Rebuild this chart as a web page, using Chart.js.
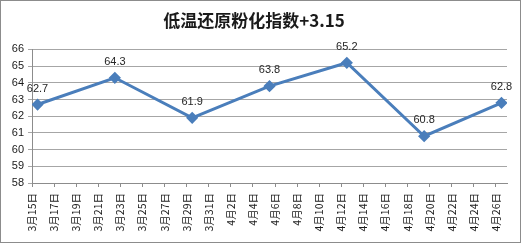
<!DOCTYPE html>
<html>
<head>
<meta charset="utf-8">
<script src="https://cdn.jsdelivr.net/npm/chart.js@4/dist/chart.umd.min.js"></script>
<style>
  body { margin: 0; background: #fff; }
  #wrap { width: 521px; height: 243px; box-sizing: border-box; border: 1px solid #8c8c8c; }
  canvas { display: block; }
</style>
</head>
<body>
<div id="wrap"><canvas id="chart" width="519" height="241"></canvas></div>
<script>
// weekly readings
const sampleDates = ['3月15日', '3月22日', '3月29日', '4月5日', '4月12日', '4月19日', '4月26日'];
const sampleValues = [62.7, 64.3, 61.9, 63.8, 65.2, 60.8, 62.8];

// date axis labels, every 2 days
const tickLabels = ['3月15日', '3月17日', '3月19日', '3月21日', '3月23日', '3月25日', '3月27日', '3月29日',
  '3月31日', '4月2日', '4月4日', '4月6日', '4月8日', '4月10日', '4月12日', '4月14日', '4月16日',
  '4月18日', '4月20日', '4月22日', '4月24日', '4月26日'];
const yTicks = [58, 59, 60, 61, 62, 63, 64, 65, 66];

// day number counted from 3月15日
const dayIndex = (label) => {
  const m = label.match(/(\d+)月(\d+)日/);
  const month = parseInt(m[1]), day = parseInt(m[2]);
  return month === 3 ? day - 15 : day + 16;
};

const valueLabels = {
  id: 'valueLabels',
  afterDatasetsDraw(chart) {
    const ctx = chart.ctx;
    const meta = chart.getDatasetMeta(0);
    ctx.save();
    ctx.font = '11px "Liberation Sans", Arial, sans-serif';
    ctx.fillStyle = '#262626';
    ctx.textAlign = 'center';
    ctx.textBaseline = 'middle';
    meta.data.forEach((pt, i) => {
      ctx.fillText(sampleValues[i].toFixed(1), pt.x, pt.y - 16);
    });
    ctx.restore();
  }
};

const ctx = document.getElementById('chart').getContext('2d');
new Chart(ctx, {
  type: 'line',
  data: {
    datasets: [{
      data: sampleDates.map((d, i) => ({ x: dayIndex(d), y: sampleValues[i] })),
      borderColor: '#4a7ebb',
      backgroundColor: '#4a7ebb',
      borderWidth: 3,
      pointStyle: 'rectRot',
      pointRadius: 4,
      pointHoverRadius: 4,
      tension: 0
    }]
  },
  options: {
    animation: false,
    responsive: false,
    events: [],
    layout: { padding: { left: 0, right: 13, top: 0, bottom: 0 } },
    plugins: {
      legend: { display: false },
      tooltip: { enabled: false },
      title: {
        display: true,
        text: '低温还原粉化指数+3.15',
        color: '#1a1a1a',
        font: { family: '"Noto Sans CJK SC", sans-serif', size: 17, weight: 'bold' },
        padding: { top: 9, bottom: 19 }
      }
    },
    scales: {
      x: {
        type: 'linear',
        min: -0.5,
        max: 42.5,
        afterBuildTicks: (scale) => {
          scale.ticks = tickLabels.map((_, i) => ({ value: i * 2 - 0.5 }));
        },
        afterFit: (scale) => { scale.height = 59; },
        ticks: {
          autoSkip: false,
          minRotation: 90,
          maxRotation: 90,
          padding: 6,
          color: '#1a1a1a',
          font: { family: '"Noto Sans CJK SC", sans-serif', size: 10.5 },
          callback: (v, i) => tickLabels[i]
        },
        grid: { drawOnChartArea: false, drawTicks: true, tickLength: 4, color: '#8c8c8c' },
        border: { color: '#8c8c8c', width: 1 }
      },
      y: {
        min: 58,
        max: 66,
        afterBuildTicks: (scale) => {
          scale.ticks = yTicks.map(v => ({ value: v }));
        },
        afterFit: (scale) => { scale.width = 31; },
        ticks: {
          padding: 4,
          color: '#1a1a1a',
          font: { family: '"Liberation Sans", Arial, sans-serif', size: 11 }
        },
        grid: { color: '#a6a6a6', tickLength: 4, drawTicks: true },
        border: { color: '#8c8c8c', width: 1 }
      }
    }
  },
  plugins: [valueLabels]
});
</script>
</body>
</html>
